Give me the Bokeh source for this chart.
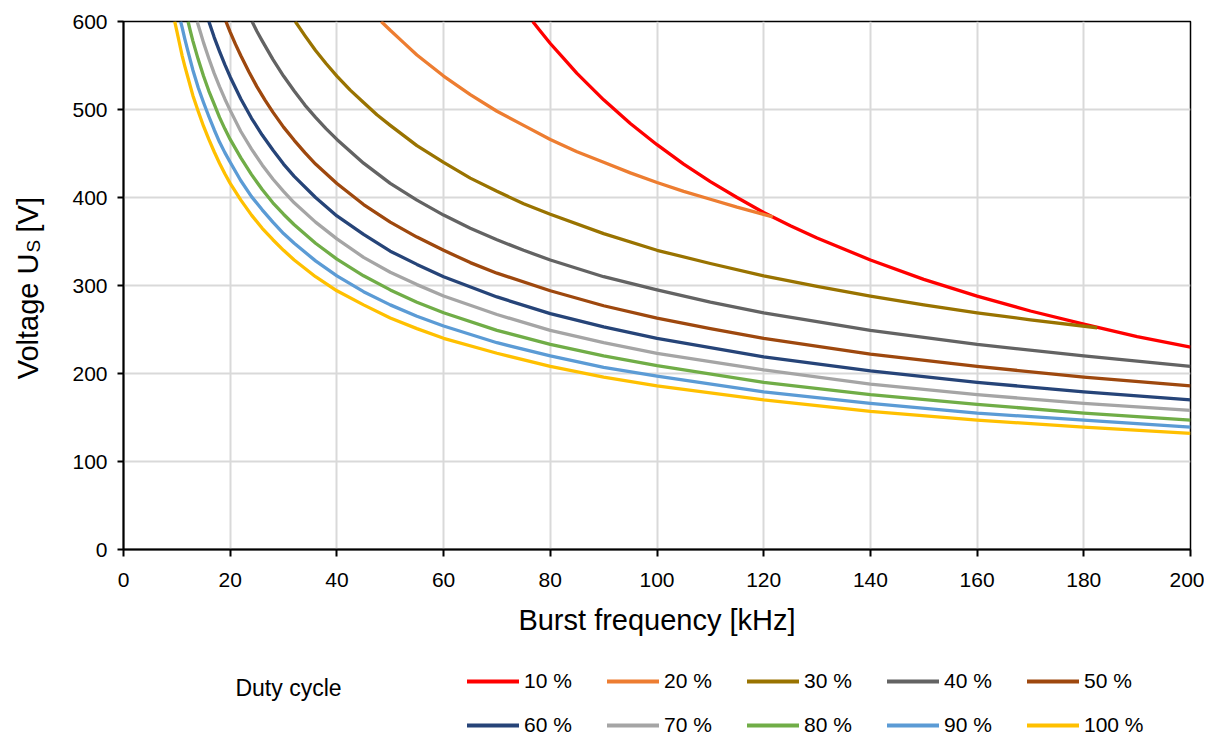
import math
from bokeh.plotting import figure
from bokeh.models import Range1d, Legend, LegendItem
from bokeh.layouts import row, column
from bokeh.core.properties import value
from bokeh.embed import file_html
from bokeh.resources import INLINE

# ---- data ----
duty_labels = ["10 %", "20 %", "30 %", "40 %", "50 %", "60 %", "70 %", "80 %", "90 %", "100 %"]
duty_colors = ["#FF0000", "#ED7D31", "#997300", "#636363", "#9E480E",
               "#264478", "#A5A5A5", "#70AD47", "#5B9BD5", "#FFC000"]

freq_10 = [76.7, 78, 80, 82.5, 85, 87.5, 90, 95, 100, 105, 110, 115, 120, 125, 130, 140, 150, 160, 170, 180, 190, 200]
volt_10 = [600, 590, 575, 558, 541, 526, 511, 484, 460, 438, 418, 400, 383, 368, 354, 329, 307, 288, 271, 256, 242, 230]

freq_20 = [48.3, 50, 52.5, 55, 57.5, 60, 65, 70, 75, 80, 85, 90, 95, 100, 105, 110, 115, 121.7]
volt_20 = [600, 590, 576, 562, 550, 538, 517, 498, 482, 466, 452, 440, 428, 417, 407, 398, 389, 378]

freq_30 = [32.2, 34, 36, 38, 40, 42.5, 45, 47.5, 50, 55, 60, 65, 70, 75, 80, 90, 100, 110, 120, 130, 140, 150, 160, 170, 182.5]
volt_30 = [600, 584, 567, 552, 538, 522, 508, 494, 482, 459, 440, 422, 407, 393, 381, 359, 340, 325, 311, 299, 288, 278, 269, 261, 252]

freq_40 = [24.1, 25, 26, 28, 30, 32, 34, 36, 38, 40, 45, 50, 55, 60, 65, 70, 75, 80, 90, 100, 110, 120, 140, 160, 180, 200]
volt_40 = [600, 589, 578, 557, 538, 521, 505, 491, 478, 466, 439, 416, 397, 380, 365, 352, 340, 329, 310, 295, 281, 269, 249, 233, 220, 208]

freq_50 = [19.2, 20, 21, 22, 23.5, 25, 26.5, 28, 30, 32, 34, 36, 38, 40, 45, 50, 55, 60, 65, 70, 80, 90, 100, 110, 120, 140, 160, 180, 200]
volt_50 = [600, 588, 574, 561, 543, 526, 511, 497, 480, 465, 451, 438, 427, 416, 392, 372, 355, 340, 326, 314, 294, 277, 263, 251, 240, 222, 208, 196, 186]

freq_60 = [16.0, 17, 18, 19, 20, 22, 24, 26, 28, 30, 32, 36, 40, 45, 50, 55, 60, 70, 80, 90, 100, 120, 140, 160, 180, 200]
volt_60 = [600, 582, 566, 551, 537, 512, 490, 471, 454, 438, 424, 400, 379, 358, 339, 324, 310, 287, 268, 253, 240, 219, 203, 190, 179, 170]

freq_70 = [13.8, 14.5, 15, 16, 17, 18, 19, 20, 22, 24, 26, 28, 30, 32, 36, 40, 45, 50, 55, 60, 70, 80, 90, 100, 120, 140, 160, 180, 200]
volt_70 = [600, 586, 576, 558, 541, 526, 512, 499, 475, 455, 437, 421, 407, 394, 372, 353, 332, 315, 301, 288, 267, 249, 235, 223, 204, 188, 176, 166, 158]

freq_80 = [12.1, 12.5, 13, 14, 15, 16, 17, 18, 19, 20, 22, 24, 26, 28, 30, 32, 36, 40, 45, 50, 55, 60, 70, 80, 90, 100, 120, 140, 160, 180, 200]
volt_80 = [600, 590, 578, 557, 538, 521, 506, 491, 478, 466, 445, 426, 409, 394, 381, 369, 348, 330, 311, 295, 281, 269, 249, 233, 220, 209, 190, 176, 165, 155, 147]

freq_90 = [10.7, 11, 11.5, 12, 13, 14, 15, 16, 17, 18, 19, 20, 22, 24, 26, 28, 30, 32, 36, 40, 45, 50, 55, 60, 70, 80, 90, 100, 120, 140, 160, 180, 200]
volt_90 = [600, 593, 580, 568, 545, 525, 508, 492, 477, 463, 451, 440, 419, 401, 386, 372, 359, 348, 328, 311, 293, 278, 265, 254, 235, 220, 207, 197, 179, 166, 155, 147, 139]

freq_100 = [9.6, 10, 10.5, 11, 11.5, 12, 13, 14, 15, 16, 17, 18, 19, 20, 22, 24, 26, 28, 30, 32, 36, 40, 45, 50, 55, 60, 70, 80, 90, 100, 120, 140, 160, 180, 200]
volt_100 = [600, 589, 575, 561, 549, 538, 516, 498, 481, 466, 452, 439, 427, 416, 397, 380, 365, 352, 340, 329, 310, 294, 278, 263, 251, 240, 223, 208, 196, 186, 170, 157, 147, 139, 132]

x_ticks = [0, 20, 40, 60, 80, 100, 120, 140, 160, 180, 200]
y_ticks = [0, 100, 200, 300, 400, 500, 600]

series_freq = [freq_10, freq_20, freq_30, freq_40, freq_50, freq_60, freq_70, freq_80, freq_90, freq_100]
series_volt = [volt_10, volt_20, volt_30, volt_40, volt_50, volt_60, volt_70, volt_80, volt_90, volt_100]

FONT = "Liberation Sans"
LEFT_W = 60
MAIN_W = 1144
MAIN_H = 650
BOTTOM_H = 87
TOTAL_H = MAIN_H + BOTTOM_H
FRAME_W = 1067


def bare(fig):
    fig.xgrid.visible = False
    fig.ygrid.visible = False
    fig.outline_line_color = None
    fig.background_fill_color = "white"
    fig.border_fill_color = "white"


# ---- main chart ----
p = figure(width=MAIN_W, height=MAIN_H, output_backend="svg", toolbar_location=None,
           x_range=Range1d(0, 200), y_range=Range1d(0, 600),
           min_border_left=63, min_border_right=14, min_border_top=21, min_border_bottom=101)
p.background_fill_color = "white"
p.border_fill_color = "white"
p.outline_line_color = "black"
p.outline_line_width = 1.5

for g in (p.xgrid, p.ygrid):
    g.grid_line_color = "#d9d9d9"
    g.grid_line_width = 2
p.xaxis.ticker = x_ticks
p.yaxis.ticker = y_ticks

for ax in (p.xaxis, p.yaxis):
    ax.axis_line_color = "black"
    ax.axis_line_width = 2
    ax.major_tick_line_color = "black"
    ax.major_tick_line_width = 2
    ax.minor_tick_line_color = None
    ax.major_tick_in = 0
    ax.major_label_text_font = FONT
    ax.major_label_text_font_size = "21px"
    ax.major_label_text_color = "black"
p.xaxis.major_tick_out = 7
p.yaxis.major_tick_out = 6
p.xaxis.major_label_standoff = 16
p.yaxis.major_label_standoff = 10

p.xaxis.axis_label = "Burst frequency [kHz]"
p.xaxis.axis_label_text_font = FONT
p.xaxis.axis_label_text_font_size = "29px"
p.xaxis.axis_label_text_font_style = "normal"
p.xaxis.axis_label_text_color = "black"
p.xaxis.axis_label_standoff = 14

for fx, vy, col in zip(series_freq, series_volt, duty_colors):
    p.line(fx, vy, line_color=col, line_width=3.3, line_join="round")

# ---- left strip: y-axis title with subscript ----
lf = figure(width=LEFT_W, height=TOTAL_H, output_backend="svg", toolbar_location=None,
            x_range=Range1d(0, LEFT_W), y_range=Range1d(0, TOTAL_H),
            x_axis_type=None, y_axis_type=None,
            min_border_left=0, min_border_right=0, min_border_top=0, min_border_bottom=0)
bare(lf)
txt_kw = dict(angle=math.pi / 2, text_baseline="alphabetic", text_color="black",
              text_font=value(FONT))
lf.text(x=[27], y=[484], text=["Voltage U"], text_align="right", text_font_size="29px", **txt_kw)
lf.text(x=[33], y=[485], text=["S"], text_align="left", text_font_size="19px", **txt_kw)
lf.text(x=[27], y=[505], text=["[V]"], text_align="left", text_font_size="29px", **txt_kw)

# ---- bottom strip: legend (frame aligned with the main chart's frame) ----
bf = figure(width=MAIN_W, height=BOTTOM_H, output_backend="svg", toolbar_location=None,
            x_range=Range1d(0, FRAME_W), y_range=Range1d(0, BOTTOM_H),
            x_axis_type=None, y_axis_type=None,
            min_border_left=63, min_border_right=14, min_border_top=0, min_border_bottom=0)
bare(bf)
leg_renderers = [bf.line(fx, vy, line_color=c, line_width=4, line_cap="round", visible=False)
                 for fx, vy, c in zip(series_freq, series_volt, duty_colors)]
items = [LegendItem(label=lab, renderers=[r]) for lab, r in zip(duty_labels, leg_renderers)]
legend = Legend(items=items, location=(344, 0), orientation="horizontal", ncols=5,
                glyph_width=52, glyph_height=20, label_standoff=5, label_width=63,
                label_height=20, spacing=20, padding=0, margin=0,
                label_text_font=FONT, label_text_font_size="21px", label_text_color="black",
                background_fill_alpha=0, border_line_alpha=0)
bf.add_layout(legend, "center")
bf.text(x=[165], y=[50], text=["Duty cycle"], text_align="center", text_baseline="middle",
        text_font=value(FONT), text_font_size="23px", text_color="black")

layout = row(lf, column(p, bf))
open("out.html", "w").write(file_html(layout, INLINE))
